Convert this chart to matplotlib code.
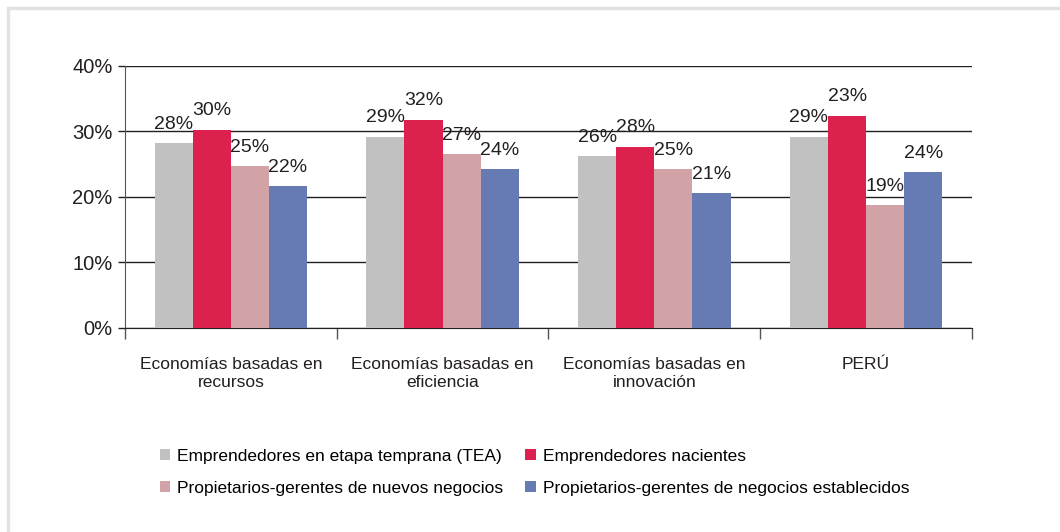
import matplotlib
matplotlib.use("Agg")
import matplotlib.pyplot as plt
from matplotlib.patches import Rectangle
import numpy as np

plt.rcParams['font.family'] = ['Liberation Sans', 'DejaVu Sans']

# data
categories = ["Economías basadas en\nrecursos", "Economías basadas en\neficiencia",
              "Economías basadas en\ninnovación", "PERÚ"]
series_names = ["Emprendedores en etapa temprana (TEA)", "Emprendedores nacientes",
                "Propietarios-gerentes de nuevos negocios",
                "Propietarios-gerentes de negocios establecidos"]
tea = [28.2, 29.2, 26.2, 29.2]
nacientes = [30.3, 31.8, 27.7, 32.4]
nuevos = [24.7, 26.5, 24.2, 18.7]
establecidos = [21.6, 24.2, 20.6, 23.8]
# labels as printed on the original chart
lab_tea = ["28%", "29%", "26%", "29%"]
lab_nacientes = ["30%", "32%", "28%", "23%"]
lab_nuevos = ["25%", "27%", "25%", "19%"]
lab_establecidos = ["22%", "24%", "21%", "24%"]
colors = ["#c1c1c1", "#dc214e", "#d2a3a6", "#667bb4"]

fig = plt.figure(figsize=(10.6, 5.32), dpi=100)
# light frame around the figure (only top and left visible)
fig.patches.append(Rectangle((0.0075, -0.2), 1.2, 1.1855, transform=fig.transFigure,
                             fill=False, edgecolor="#e2e2e2", linewidth=2.5))
ax = fig.add_axes([0.1179, 0.3835, 0.7991, 0.4925])

x = np.arange(len(categories))
w = 0.18
all_vals = [tea, nacientes, nuevos, establecidos]
all_labs = [lab_tea, lab_nacientes, lab_nuevos, lab_establecidos]
handles = []
for i in range(4):
    pos = x + (i - 1.5) * w
    bars = ax.bar(pos, all_vals[i], w, color=colors[i], label=series_names[i], zorder=3)
    handles.append(bars)
    for b, t in zip(bars, all_labs[i]):
        ax.annotate(t, (b.get_x() + b.get_width() / 2, b.get_height()),
                    xytext=(0, 7.5), textcoords="offset points", ha="center", va="bottom",
                    fontsize=14, color="#231f20", zorder=4)

ax.set_xlim(-0.5, 3.5)
ax.set_ylim(0, 40)
ax.set_yticks([0, 10, 20, 30, 40])
ax.set_yticklabels(["0%", "10%", "20%", "30%", "40%"], fontsize=14.5, color="#231f20")
ax.yaxis.grid(True, color="#231f20", linewidth=1, zorder=0)
ax.tick_params(axis="y", length=5, width=1, color="#231f20", pad=4)

ax.set_xticks([-0.5, 0.5, 1.5, 2.5, 3.5])
ax.set_xticklabels([])
ax.tick_params(axis="x", length=8, width=1, color="#555555")
ax.set_xticks(x, minor=True)
ax.set_xticklabels(categories, minor=True, fontsize=12.5, color="#231f20",
                   linespacing=1.25)
ax.tick_params(axis="x", which="minor", length=0, pad=21)

for s in ["top", "right"]:
    ax.spines[s].set_visible(False)
ax.spines["left"].set_color("#555555")
ax.spines["bottom"].set_color("#231f20")

# legend filled row by row like the original
order = [0, 2, 1, 3]
fig.legend([handles[k] for k in order], [series_names[k] for k in order],
           loc="upper left", bbox_to_anchor=(0.151, 0.156), ncol=2, frameon=False,
           fontsize=12.5, handlelength=0.6, handleheight=0.6, handletextpad=0.4,
           columnspacing=1.25, labelspacing=0.98, borderaxespad=0, borderpad=0)

fig.savefig("out.png", dpi=100)
